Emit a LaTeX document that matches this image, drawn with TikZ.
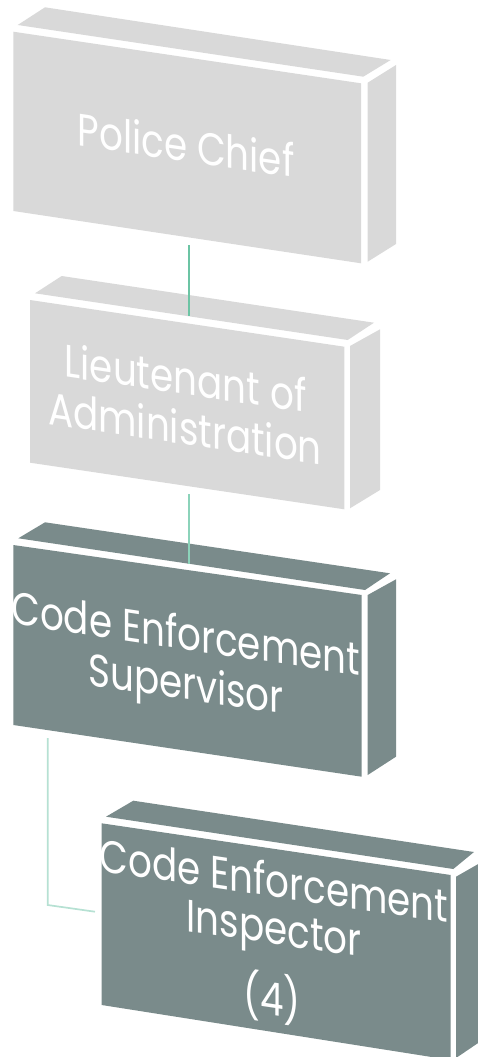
\documentclass[tikz,border=0pt]{standalone}
\usepackage{fontspec}
\setmainfont{Poppins}[FakeStretch=0.82]
\definecolor{lightbox}{HTML}{D9D9D9}
\definecolor{darkbox}{HTML}{7A8B8B}
\definecolor{lineA}{HTML}{6CC4A4}
\definecolor{lineB}{HTML}{8CD3BA}
\definecolor{lineC}{HTML}{B6E1D3}
\begin{document}
\begin{tikzpicture}[x=1pt,y=-1pt,
  lbl/.style={text=white, font=\fontsize{45.5}{52}\selectfont, anchor=base, inner sep=0pt, yslant=-0.148},
  conn/.style={line width=2pt},
  light/.style={fill=lightbox},
  dark/.style={fill=darkbox}]
\useasboundingbox (0,0) rectangle (478,1057);
\clip (0,0) rectangle (478,1057);
% Box 1: Police Chief
\fill[light] (13.3,31.7) -- (361,83.3) -- (361,263.3) -- (13.3,211) -- cycle;
\fill[light] (17.7,25) -- (45,7.3) -- (390.7,60) -- (363.3,76.7) -- cycle;
\fill[light] (367.7,82.7) -- (396,65) -- (396,244) -- (367.7,261.7) -- cycle;
% Box 2: Lieutenant
\fill[light] (30,300) -- (344.3,346.7) -- (344.3,509.3) -- (30,462.7) -- cycle;
\fill[light] (35,293.3) -- (61.7,276) -- (374,322.7) -- (347.7,340) -- cycle;
\fill[light] (350,346) -- (380,329.3) -- (380,490) -- (350,508.3) -- cycle;
% Box 3: Supervisor
\fill[dark] (13.3,545) -- (361.7,595) -- (361.7,776.7) -- (13.3,725) -- cycle;
\fill[dark] (18.3,538.3) -- (45,522.3) -- (390,573.3) -- (365,590) -- cycle;
\fill[dark] (367.7,595) -- (396,579.3) -- (396,756.7) -- (367.7,775) -- cycle;
% Box 4: Inspector
\fill[dark] (101.7,823.3) -- (450.7,875) -- (450.7,1060) -- (101.7,1005) -- cycle;
\fill[dark] (106,816.7) -- (133.3,800.7) -- (474,852) -- (453.3,869) -- cycle;
\fill[dark] (456,876.7) -- (484,860.7) -- (484,1039) -- (456,1058) -- cycle;
% Texts
\node[lbl] (pc) at (186,161.7) {Police Chief};
\node[lbl] (lt1) at (185.5,394.5) {Lieutenant of};
\node[lbl] (lt2) at (185,444.5) {Administration};
\node[lbl] (cs1) at (185.7,649.8) {Code Enforcement};
\node[lbl] (cs2) at (186,699.5) {Supervisor};
\node[lbl] (ci1) at (274,897) {Code Enforcement};
\node[lbl] (ci2) at (274,944) {Inspector};
\node[lbl] (ci3) at (272,1015) {(4)};
% Connector end points
\coordinate (pcOut) at (189,245);
\coordinate (ltIn) at (189,316);
\coordinate (ltOut) at (189,494);
\coordinate (csIn) at (189,564);
\coordinate (csOut) at (47.7,738);
\coordinate (ciIn) at (95,911.7);
\draw[conn, lineA] (pcOut) -- (ltIn);
\draw[conn, lineB] (ltOut) -- (csIn);
\draw[conn, lineC, line width=1.7pt] (csOut) -- (csOut |- 0,905) -- (ciIn);
\end{tikzpicture}
\end{document}
